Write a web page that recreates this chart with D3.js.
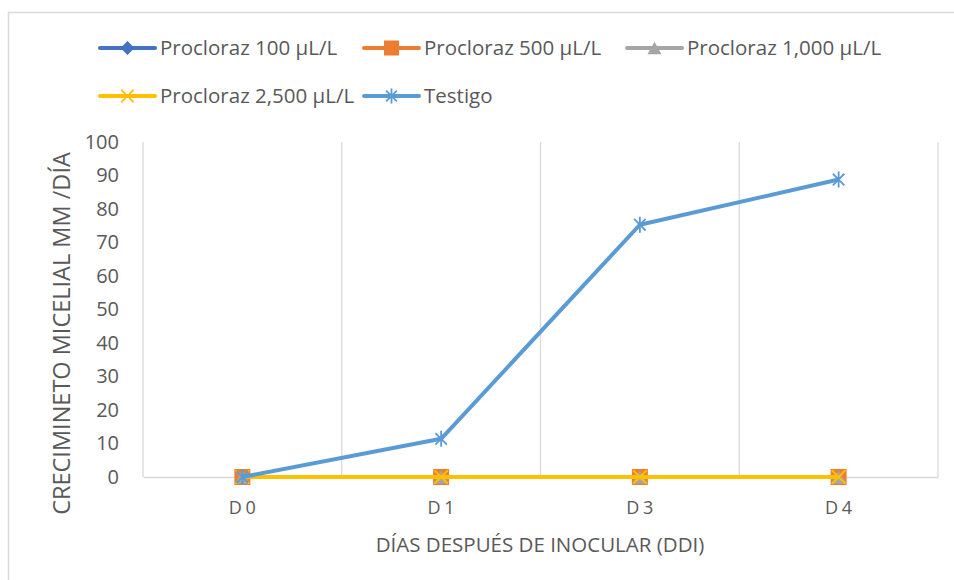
<!DOCTYPE html>
<html>
<head>
<meta charset="utf-8">
<script src="https://cdn.jsdelivr.net/npm/d3@7"></script>
<style>
  html, body { margin: 0; padding: 0; background: #fff; }
  svg { display: block; font-family: "Open Sans", "Noto Sans", sans-serif; }
</style>
</head>
<body>
<svg id="chart" width="954" height="580"></svg>
<script>
// Days after inoculation
const categories = ["D 0", "D 1", "D 3", "D 4"];

// Mycelial growth (mm/day) for each treatment
const prochloraz100 = [0, 0, 0, 0];
const prochloraz500 = [0, 0, 0, 0];
const prochloraz1000 = [0, 0, 0, 0];
const prochloraz2500 = [0, 0, 0, 0];
const control = [0, 11.4, 75.3, 88.8];

const yTicks = [0, 10, 20, 30, 40, 50, 60, 70, 80, 90, 100];

const series = [
  { name: "Procloraz 100 µL/L", values: prochloraz100, color: "#4472c4", marker: "diamond" },
  { name: "Procloraz 500 µL/L", values: prochloraz500, color: "#ed7d31", marker: "square" },
  { name: "Procloraz 1,000 µL/L", values: prochloraz1000, color: "#a5a5a5", marker: "triangle" },
  { name: "Procloraz 2,500 µL/L", values: prochloraz2500, color: "#ffc000", marker: "x" },
  { name: "Testigo", values: control, color: "#5b9bd5", marker: "star" }
];

const svg = d3.select("#chart");

// outer chart frame
svg.append("rect")
  .attr("x", 8.5).attr("y", 12.5)
  .attr("width", 960).attr("height", 600)
  .attr("fill", "none").attr("stroke", "#d9d9d9").attr("stroke-width", 1.5);

const plot = { left: 143, right: 938, top: 142, bottom: 477 };

const x = d3.scaleBand().domain(categories).range([plot.left, plot.right]).padding(0);
const y = d3.scaleLinear().domain([0, 100]).range([plot.bottom, plot.top]);

// vertical gridlines at category boundaries
const bounds = categories.map(c => x(c)).concat([x.range()[1]]);
svg.append("g").selectAll("line").data(bounds).join("line")
  .attr("x1", d => d).attr("x2", d => d)
  .attr("y1", plot.top).attr("y2", plot.bottom)
  .attr("stroke", "#d9d9d9").attr("stroke-width", 1.3);

// y axis labels
const yAxis = d3.axisLeft(y).tickValues(yTicks).tickSize(0).tickPadding(0);
const gy = svg.append("g").attr("transform", `translate(${plot.left - 24},0)`).call(yAxis);
gy.select(".domain").remove();
gy.selectAll("text").attr("fill", "#595959").style("font-size", "20px")
  .style("font-family", "'Open Sans', sans-serif");

// x axis
const xAxis = d3.axisBottom(x).tickSize(0).tickPadding(0);
const gx = svg.append("g").attr("transform", `translate(0,${plot.bottom})`).call(xAxis);
gx.select(".domain").attr("stroke", "#d9d9d9").attr("stroke-width", 1.5);
gx.selectAll("text").attr("fill", "#595959").attr("y", 37).attr("dy", 0)
  .style("font-size", "18px").style("word-spacing", "-1px")
  .style("font-family", "'Open Sans', sans-serif");

// axis titles
svg.append("text")
  .attr("x", 540).attr("y", 552)
  .attr("text-anchor", "middle").attr("fill", "#595959")
  .style("font-size", "20.5px")
  .text("DÍAS DESPUÉS DE INOCULAR (DDI)");

svg.append("text")
  .attr("transform", `translate(70,${(150 + 517) / 2}) rotate(-90)`)
  .attr("text-anchor", "middle").attr("fill", "#595959")
  .style("font-size", "23.5px")
  .text("CRECIMINETO MICELIAL MM /DÍA");

// marker drawing helper
function drawMarker(g, type, color, s) {
  if (type === "diamond") {
    g.append("path").attr("d", `M0,${-s/2}L${s/2},0L0,${s/2}L${-s/2},0Z`).attr("fill", color);
  } else if (type === "square") {
    g.append("rect").attr("x", -s/2).attr("y", -s/2).attr("width", s).attr("height", s)
      .attr("fill", color);
  } else if (type === "triangle") {
    const h = s * 0.9;
    g.append("path").attr("d", `M0,${-h/2}L${s/2},${h/2}L${-s/2},${h/2}Z`).attr("fill", color);
  } else if (type === "x") {
    const r = s * 0.45;
    g.append("path").attr("d", `M${-r},${-r}L${r},${r}M${r},${-r}L${-r},${r}`)
      .attr("stroke", color).attr("stroke-width", 1.8).attr("fill", "none");
  } else if (type === "star") {
    const r = s * 0.5;
    const d = r * 0.72;
    g.append("path")
      .attr("d", `M0,${-r}L0,${r}M${-d},${-d}L${d},${d}M${d},${-d}L${-d},${d}`)
      .attr("stroke", color).attr("stroke-width", 1.8).attr("fill", "none");
  }
}

const line = d3.line()
  .x((d, i) => x(categories[i]) + x.bandwidth() / 2)
  .y(d => y(d));

const markerSize = { diamond: 15, square: 16, triangle: 15, x: 15, star: 16 };

series.forEach(s => {
  const g = svg.append("g");
  g.append("path").datum(s.values)
    .attr("d", line).attr("fill", "none")
    .attr("stroke", s.color).attr("stroke-width", 4).attr("stroke-linejoin", "round");
  s.values.forEach((v, i) => {
    const m = g.append("g")
      .attr("transform", `translate(${x(categories[i]) + x.bandwidth() / 2},${y(v)})`);
    drawMarker(m, s.marker, s.color, markerSize[s.marker]);
  });
});

// legend
const legendPos = [
  { x: 100, y: 48 }, { x: 364, y: 48 }, { x: 627, y: 48 },
  { x: 100, y: 96 }, { x: 364, y: 96 }
];
series.forEach((s, i) => {
  const p = legendPos[i];
  const g = svg.append("g").attr("transform", `translate(${p.x},${p.y})`);
  g.append("line").attr("x1", 0).attr("x2", 55).attr("y1", 0).attr("y2", 0)
    .attr("stroke", s.color).attr("stroke-width", 4).attr("stroke-linecap", "round");
  const m = g.append("g").attr("transform", "translate(27.5,0)");
  drawMarker(m, s.marker, s.color, markerSize[s.marker] - 1);
  g.append("text").attr("x", 60).attr("y", 0).attr("dy", "0.35em")
    .attr("fill", "#595959").style("font-size", "20.5px")
    .text(s.name);
});
</script>
</body>
</html>
